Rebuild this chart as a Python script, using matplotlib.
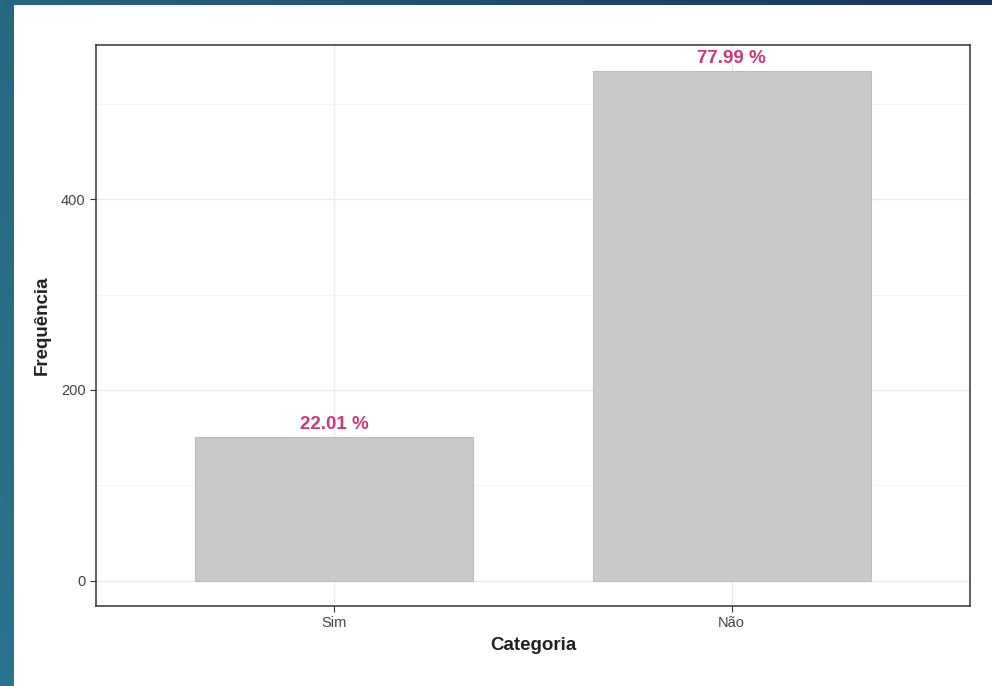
import numpy as np
import matplotlib
matplotlib.use("Agg")
import matplotlib.pyplot as plt
from matplotlib.patches import Rectangle

# Data
categorias = ["Sim", "Não"]
frequencias = [151, 535]
percentuais = ["22.01 %", "77.99 %"]

plt.rcParams['font.family'] = ['Liberation Sans', 'DejaVu Sans']


def draw_background(fig):
    """Blue slide background with a white panel on top"""
    bg = fig.add_axes([0, 0, 1, 1], zorder=-10)
    h, w = 50, 200
    xs = np.linspace(0, 1, w)[None, :]
    ys = np.linspace(0, 1, h)[:, None]
    left = np.array([0.17, 0.45, 0.56])
    right = np.array([0.10, 0.22, 0.40])
    t = xs * np.ones_like(ys)
    img = left * (1 - t[..., None]) + right * t[..., None]
    img = img * (0.9 + 0.1 * ys[..., None])
    bg.imshow(img, aspect='auto', extent=[0, 1, 0, 1])
    bg.add_patch(Rectangle((14 / 992, 0), 1, 1 - 5 / 686,
                           facecolor='white', edgecolor='none'))
    bg.set_xlim(0, 1)
    bg.set_ylim(0, 1)
    bg.axis('off')


def main():
    fig = plt.figure(figsize=(9.92, 6.86), dpi=100)
    draw_background(fig)

    ax = fig.add_axes([96 / 992, 1 - 606 / 686, 874 / 992, 561 / 686])
    x = np.arange(len(categorias))
    ax.bar(x, frequencias, width=0.7, color='#c9c9c9',
           edgecolor='#bdbdbd', linewidth=0.8, zorder=2)

    # Percent labels above the bars
    for xi, f, p in zip(x, frequencias, percentuais):
        ax.annotate(p, (xi, f), xytext=(0, 2.5), textcoords='offset points',
                    ha='center', va='bottom', fontsize=13.5,
                    fontweight='bold', color='#d03580', zorder=3)

    ymax = max(frequencias)
    ax.set_xlim(-0.6, len(categorias) - 0.4)
    ax.set_ylim(-0.05 * ymax, 1.05 * ymax)
    ax.set_xticks(x)
    ax.set_xticklabels(categorias)
    ax.set_yticks([0, 200, 400])
    ax.set_yticks([100, 300, 500], minor=True)

    ax.grid(which='major', color='#ebebeb', linewidth=1.0, zorder=0)
    ax.grid(which='minor', axis='y', color='#f3f3f3', linewidth=0.6, zorder=0)
    ax.set_axisbelow(True)
    ax.tick_params(which='major', length=4, color='#333333',
                   labelsize=10.5, labelcolor='#444444')
    ax.tick_params(which='minor', length=0)
    for s in ax.spines.values():
        s.set_color('#333333')
        s.set_linewidth(1.1)

    ax.set_xlabel("Categoria", fontsize=13.5, fontweight='bold',
                  color='#222222', labelpad=5)
    ax.set_ylabel("Frequência", fontsize=13.5, fontweight='bold',
                  color='#222222', labelpad=7)

    fig.savefig("out.png", dpi=100)


if __name__ == "__main__":
    main()
